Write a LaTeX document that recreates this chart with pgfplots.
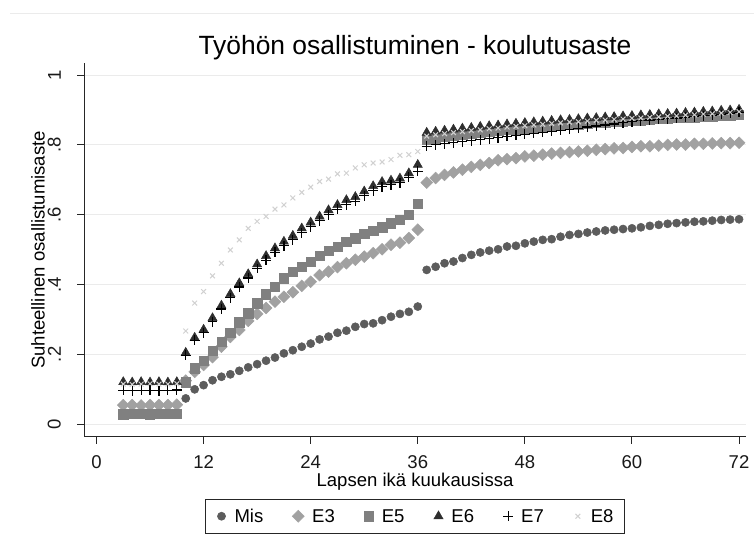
\documentclass[border=0pt]{standalone}
\usepackage{fontspec}
\setmainfont{Liberation Sans}
\usepackage{pgfplots}
\usepackage{pgfplotstable}
\pgfplotsset{compat=1.18}
\definecolor{cmis}{gray}{0.36}
\definecolor{ceIII}{gray}{0.63}
\definecolor{ceV}{gray}{0.50}
\definecolor{ceVI}{gray}{0.18}
\definecolor{ceVII}{gray}{0.0}
\definecolor{ceVIII}{gray}{0.82}
\pgfplotsset{mylegimg/.style={legend image code/.code={\draw[##1] plot coordinates {(5bp,0bp)}; \path[draw=none, fill=none] (0bp,-5bp) (10bp,5bp);}}}

\pgfplotstableread{
m Mis E3 E5 E6 E7 E8
3 0.030 0.055 0.029 0.121 0.097 0.115
4 0.030 0.055 0.030 0.120 0.096 0.114
5 0.031 0.054 0.030 0.121 0.097 0.115
6 0.030 0.055 0.029 0.120 0.097 0.116
7 0.030 0.055 0.030 0.121 0.096 0.115
8 0.031 0.055 0.030 0.120 0.097 0.115
9 0.032 0.056 0.031 0.121 0.098 0.116
10 0.074 0.125 0.120 0.205 0.198 0.267
11 0.100 0.150 0.160 0.248 0.240 0.347
12 0.112 0.170 0.182 0.271 0.262 0.380
13 0.126 0.192 0.210 0.304 0.294 0.425
14 0.136 0.222 0.236 0.340 0.330 0.461
15 0.143 0.250 0.262 0.373 0.362 0.499
16 0.153 0.270 0.292 0.404 0.393 0.528
17 0.163 0.296 0.318 0.430 0.419 0.561
18 0.172 0.316 0.346 0.458 0.446 0.581
19 0.182 0.333 0.372 0.482 0.470 0.595
20 0.191 0.351 0.394 0.504 0.492 0.616
21 0.203 0.365 0.418 0.523 0.511 0.628
22 0.212 0.378 0.437 0.540 0.528 0.648
23 0.222 0.396 0.451 0.561 0.549 0.664
24 0.231 0.408 0.466 0.578 0.566 0.679
25 0.243 0.427 0.482 0.595 0.583 0.695
26 0.251 0.437 0.497 0.613 0.600 0.702
27 0.262 0.450 0.509 0.628 0.615 0.717
28 0.268 0.461 0.523 0.642 0.629 0.719
29 0.279 0.471 0.533 0.651 0.638 0.734
30 0.287 0.480 0.545 0.667 0.654 0.743
31 0.289 0.490 0.555 0.682 0.669 0.748
32 0.298 0.501 0.564 0.694 0.680 0.751
33 0.308 0.514 0.576 0.698 0.686 0.758
34 0.316 0.520 0.585 0.704 0.692 0.770
35 0.322 0.533 0.600 0.719 0.707 0.772
36 0.337 0.557 0.631 0.743 0.724 0.781
37 0.442 0.692 0.815 0.835 0.796 0.825
38 0.451 0.705 0.819 0.838 0.800 0.829
39 0.461 0.714 0.823 0.841 0.803 0.832
40 0.466 0.721 0.826 0.844 0.806 0.835
41 0.476 0.729 0.829 0.847 0.809 0.838
42 0.485 0.737 0.832 0.849 0.812 0.841
43 0.492 0.743 0.835 0.852 0.815 0.843
44 0.497 0.748 0.838 0.854 0.818 0.846
45 0.501 0.756 0.840 0.856 0.821 0.848
46 0.509 0.759 0.843 0.859 0.824 0.851
47 0.511 0.762 0.845 0.861 0.827 0.853
48 0.518 0.767 0.847 0.863 0.830 0.855
49 0.523 0.769 0.850 0.865 0.833 0.857
50 0.528 0.772 0.852 0.867 0.836 0.859
51 0.530 0.775 0.854 0.869 0.839 0.861
52 0.537 0.777 0.856 0.871 0.842 0.863
53 0.542 0.779 0.858 0.872 0.845 0.865
54 0.545 0.781 0.859 0.874 0.848 0.866
55 0.549 0.783 0.861 0.876 0.851 0.868
56 0.552 0.786 0.863 0.877 0.854 0.870
57 0.555 0.788 0.865 0.879 0.857 0.871
58 0.557 0.790 0.866 0.880 0.860 0.873
59 0.559 0.791 0.868 0.882 0.863 0.874
60 0.561 0.794 0.869 0.883 0.866 0.876
61 0.564 0.796 0.871 0.885 0.869 0.877
62 0.568 0.796 0.872 0.886 0.871 0.879
63 0.571 0.798 0.874 0.888 0.873 0.880
64 0.574 0.800 0.875 0.889 0.875 0.882
65 0.576 0.801 0.877 0.890 0.877 0.883
66 0.578 0.801 0.878 0.892 0.879 0.885
67 0.580 0.803 0.879 0.893 0.881 0.886
68 0.581 0.803 0.881 0.895 0.883 0.888
69 0.583 0.804 0.882 0.896 0.885 0.889
70 0.585 0.805 0.884 0.898 0.887 0.891
71 0.586 0.805 0.885 0.899 0.890 0.893
72 0.587 0.806 0.887 0.901 0.893 0.895
}\data

\begin{document}
\begin{tikzpicture}[x=1bp,y=1bp]
\useasboundingbox (0,0) rectangle (754,550);
\draw[color=black!8, line width=1bp] (10,536) -- (754,536);
\begin{axis}[
  at={(84bp,113.3bp)}, anchor=south west,
  scale only axis, width=662bp, height=373.4bp,
  xmin=-1.40, xmax=72.78, ymin=-0.0356, ymax=1.0336,
  axis lines*=left,
  axis line style={line width=1bp, black!85},
  tick align=outside, major tick length=7bp,
  tick style={line width=1bp, black!85},
  xtick={0,12,24,36,48,60,72},
  ytick={0,0.2,0.4,0.6,0.8,1},
  yticklabels={0,.2,.4,.6,.8,1},
  ymajorgrids, grid style={line width=1bp, black!8},
  /pgf/number format/assume math mode=true,
  tick label style={font=\fontsize{18.6}{22}\selectfont, text=black!90},
  xticklabel style={inner sep=0pt, anchor=north, yshift=-12bp},
  yticklabel style={inner sep=0pt, xshift=-16bp, rotate=90, anchor=south},
  title={Työhön osallistuminen - koulutusaste},
  title style={at={(axis description cs:0.5,1.0258)}, anchor=center, font=\fontsize{26.5}{30}\selectfont},
  xlabel={Lapsen ikä kuukausissa},
  xlabel style={at={(axis description cs:0.5,-0.1195)}, anchor=center, font=\fontsize{18.6}{22}\selectfont},
  ylabel={Suhteellinen osallistumisaste},
  ylabel style={at={(axis description cs:-0.0695,0.5)}, anchor=center, rotate=0, font=\fontsize{18.6}{22}\selectfont},
  legend columns=6,
  legend style={at={(axis description cs:0.5,-0.2130)}, anchor=center,
    draw=black!85, line width=1bp, inner xsep=11bp, inner ysep=10.5bp,
    font=\fontsize{18.6}{22}\selectfont,
    nodes={inner sep=0pt, anchor=west, text height=13.4bp, text depth=0bp},
    /tikz/every odd column/.append style={column sep=8bp},
    /tikz/every even column/.append style={column sep=29bp}},
]
\addplot[only marks, mylegimg, mark=*, mark size=4.1pt, mark options={fill=cmis, draw=cmis, line width=0.5bp}] table[x=m, y=Mis] {\data};
\addlegendentry{Mis}
\addplot[only marks, mylegimg, mark=square*, mark size=4.2pt, mark options={rotate=45, fill=ceIII, draw=ceIII, line width=0.5bp}] table[x=m, y=E3] {\data};
\addlegendentry{E3}
\addplot[only marks, mylegimg, mark=square*, mark size=4.7pt, mark options={fill=ceV, draw=ceV, line width=0.5bp}] table[x=m, y=E5] {\data};
\addlegendentry{E5}
\addplot[only marks, mylegimg, mark=triangle*, mark size=5.3pt, mark options={fill=ceVI, draw=ceVI, line width=0.5bp}] table[x=m, y=E6] {\data};
\addlegendentry{E6}
\addplot[only marks, mylegimg, mark=+, mark size=5pt, mark options={draw=ceVII, line width=1.2bp}] table[x=m, y=E7] {\data};
\addlegendentry{E7}
\addplot[only marks, mylegimg, mark=x, mark size=3.4pt, mark options={draw=ceVIII, line width=1bp}] table[x=m, y=E8] {\data};
\addlegendentry{E8}
\end{axis}
\end{tikzpicture}
\end{document}
